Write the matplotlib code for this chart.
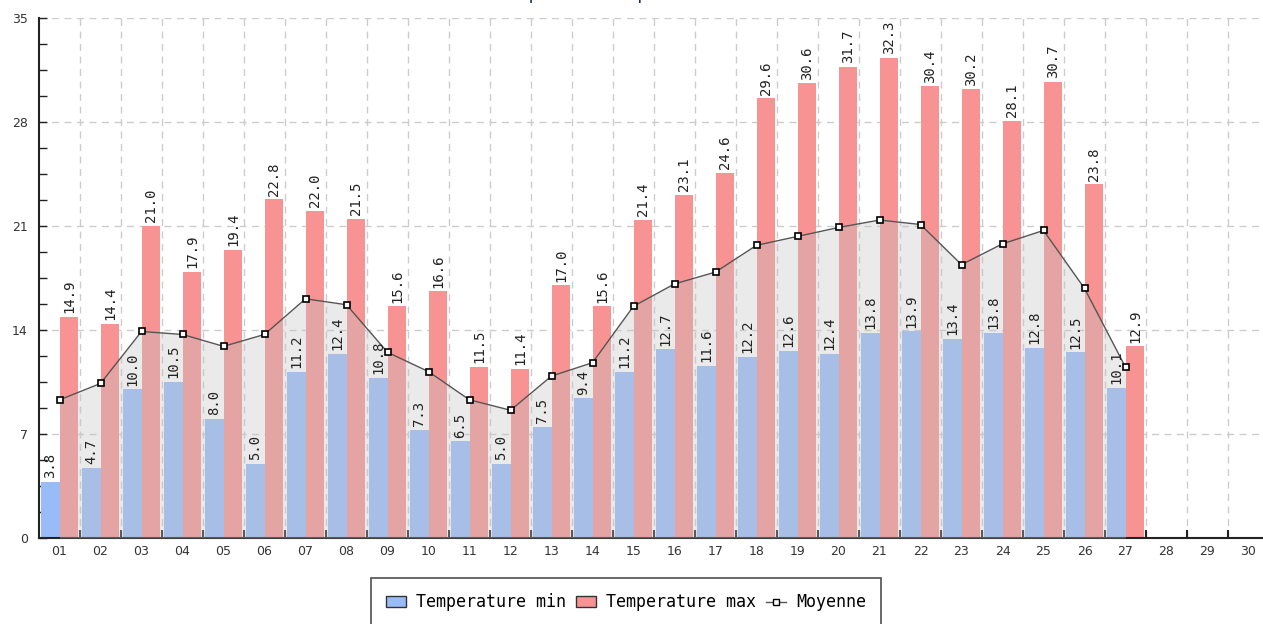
import numpy as np
import matplotlib
matplotlib.use('Agg')
import matplotlib.pyplot as plt
from matplotlib.patches import Patch
from matplotlib.lines import Line2D

# jours du mois
jours = ['%02d' % d for d in range(1, 31)]

# temperatures
temp_min = [3.8, 4.7, 10.0, 10.5, 8.0, 5.0, 11.2, 12.4, 10.8, 7.3, 6.5, 5.0, 7.5, 9.4,
            11.2, 12.7, 11.6, 12.2, 12.6, 12.4, 13.8, 13.9, 13.4, 13.8, 12.8, 12.5, 10.1]
temp_max = [14.9, 14.4, 21.0, 17.9, 19.4, 22.8, 22.0, 21.5, 15.6, 16.6, 11.5, 11.4, 17.0, 15.6,
            21.4, 23.1, 24.6, 29.6, 30.6, 31.7, 32.3, 30.4, 30.2, 28.1, 30.7, 23.8, 12.9]
moyenne = [9.3, 10.4, 13.9, 13.7, 12.9, 13.7, 16.1, 15.7, 12.5, 11.2, 9.3, 8.6, 10.9, 11.8,
           15.6, 17.1, 17.9, 19.7, 20.3, 20.9, 21.4, 21.1, 18.4, 19.8, 20.7, 16.8, 11.5]

c_min = '#99bbf8'
c_max = '#f79393'
mono = 'DejaVu Sans Mono'

fig = plt.figure(figsize=(12.63, 6.24), dpi=100)
ax = fig.add_axes([39 / 1263, 86 / 624, 1230 / 1263, 520 / 624])

n = len(temp_min)
x = np.arange(n)
w = 0.46

ax.bar(x - w, temp_min, width=w, align='edge', color=c_min, zorder=2)
ax.bar(x, temp_max, width=w, align='edge', color=c_max, zorder=2)

# zone grise sous la moyenne
ax.fill_between(x, moyenne, 0, color='#c4c4c6', alpha=0.35, lw=0, zorder=3)
ax.plot(x, moyenne, color='#555555', lw=1, marker='s', ms=4.5,
        mfc='white', mec='black', mew=1.2, zorder=4)

# etiquettes des valeurs
for i in range(n):
    ax.text(x[i] - w / 2, temp_min[i] + 0.25, '%.1f' % temp_min[i], rotation=90,
            ha='center', va='bottom', fontsize=10, family=mono, color='#222222', zorder=5)
    ax.text(x[i] + w / 2, temp_max[i] + 0.25, '%.1f' % temp_max[i], rotation=90,
            ha='center', va='bottom', fontsize=10, family=mono, color='#222222', zorder=5)

ax.set_xlim(-0.5, 29.5)
ax.set_ylim(0, 35)

ax.set_xticks(np.arange(30))
ax.set_xticklabels(jours)
ax.set_xticks(np.arange(30) + 0.5, minor=True)
ax.set_yticks([0, 7, 14, 21, 28, 35])
ax.set_yticks(np.arange(0, 35.01, 1.75), minor=True)

ax.tick_params(axis='x', which='major', length=0, pad=5, labelsize=9, labelcolor='#333333')
ax.tick_params(axis='x', which='minor', direction='in', length=6, width=1.5, color='#222222')
ax.tick_params(axis='y', which='both', direction='in', length=6, width=1, color='#222222',
               labelsize=9, labelcolor='#333333', pad=8)

ax.grid(True, axis='y', which='major', ls=(0, (5, 4)), color='#cccccc', lw=1, zorder=0)
ax.grid(True, axis='x', which='minor', ls=(0, (5, 4)), color='#cccccc', lw=1, zorder=0)
ax.set_axisbelow(True)

for s in ['top', 'right']:
    ax.spines[s].set_visible(False)
ax.spines['left'].set_color('#222222')
ax.spines['bottom'].set_color('#222222')
ax.spines['left'].set_linewidth(1.5)
ax.spines['bottom'].set_linewidth(1.5)

# titre (coupe en haut de l'image, comme sur l'original)
fig.text(0.5, 1 - 3 / 624, 'Temperatures pour le mois', ha='center', va='bottom',
         fontsize=13, color='#1a2a6c', family=mono)

handles = [Patch(facecolor=c_min, edgecolor='#333333', label='Temperature min'),
           Patch(facecolor=c_max, edgecolor='#333333', label='Temperature max'),
           Line2D([0], [0], color='#555555', lw=1, marker='s', ms=4, mfc='white',
                  mec='black', label='Moyenne')]
leg = fig.legend(handles=handles, loc='upper center', bbox_to_anchor=(626 / 1263, 1 - 570 / 624),
                 ncol=3, frameon=True, fancybox=False, edgecolor='#222222',
                 prop={'family': mono, 'size': 12}, handlelength=1.2, handletextpad=0.6,
                 columnspacing=0.6, borderpad=0.9)
leg.get_frame().set_linewidth(1.2)

plt.savefig('out.png', dpi=100)
